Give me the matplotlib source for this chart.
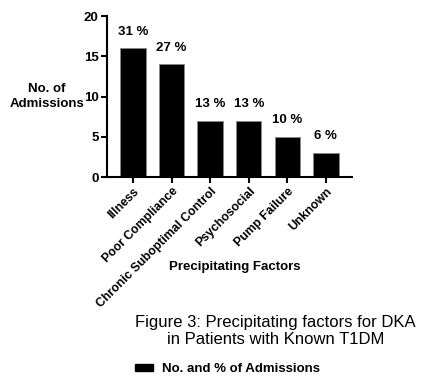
import matplotlib
matplotlib.use("Agg")
import matplotlib.pyplot as plt
from matplotlib.patches import Patch

plt.rcParams['font.family'] = ['Liberation Sans', 'DejaVu Sans']

factors = ["Illness", "Poor Compliance", "Chronic Suboptimal Control",
           "Psychosocial", "Pump Failure", "Unknown"]
admissions = [16, 14, 7, 7, 5, 3]
percents = ["31 %", "27 %", "13 %", "13 %", "10 %", "6 %"]
yticks = [0, 5, 10, 15, 20]

fig = plt.figure(figsize=(4.39, 3.84), dpi=100)
ax = fig.add_axes([0.2437, 0.539, 0.558, 0.419])

x = range(len(factors))
bars = ax.bar(x, admissions, width=0.66, color="black", edgecolor="#888888", linewidth=0.6)
for b, p in zip(bars, percents):
    ax.text(b.get_x() + b.get_width() / 2, b.get_height() + 1.3, p,
            ha="center", va="bottom", fontsize=9.5, fontweight="bold")

ax.set_xlim(-0.675, 5.675)
ax.set_ylim(0, 20)
ax.set_yticks(yticks)
ax.set_xticks(list(x))
ax.set_xticklabels(factors, rotation=45, ha="right", rotation_mode="anchor",
                   fontsize=8.8, fontweight="bold")
for lbl in ax.get_yticklabels():
    lbl.set_fontweight("bold")
    lbl.set_fontsize(9.5)
ax.spines["top"].set_visible(False)
ax.spines["right"].set_visible(False)
ax.spines["left"].set_linewidth(1.5)
ax.spines["bottom"].set_linewidth(1.5)
ax.tick_params(width=1.5, length=4, direction="out", pad=2)

ax.set_ylabel("No. of\nAdmissions", rotation=0, fontsize=9.5, fontweight="bold",
              ha="center", va="center", linespacing=1.35)
ax.yaxis.set_label_coords(-0.245, 0.5)

fig.text(0.535, 0.305, "Precipitating Factors", ha="center", va="center",
         fontsize=9.5, fontweight="bold")

fig.text(0.627, 0.138, "Figure 3: Precipitating factors for DKA\nin Patients with Known T1DM",
         ha="center", va="center", fontsize=12, linespacing=1.1)

fig.legend(handles=[Patch(facecolor="black", edgecolor="black")],
           labels=["No. and % of Admissions"], loc="center left",
           bbox_to_anchor=(0.307, 0.038), frameon=False,
           prop={"size": 9.5, "weight": "bold"}, handlelength=1.4, handleheight=0.5,
           handletextpad=0.7, borderpad=0, borderaxespad=0)

fig.savefig("out.png", dpi=100)
